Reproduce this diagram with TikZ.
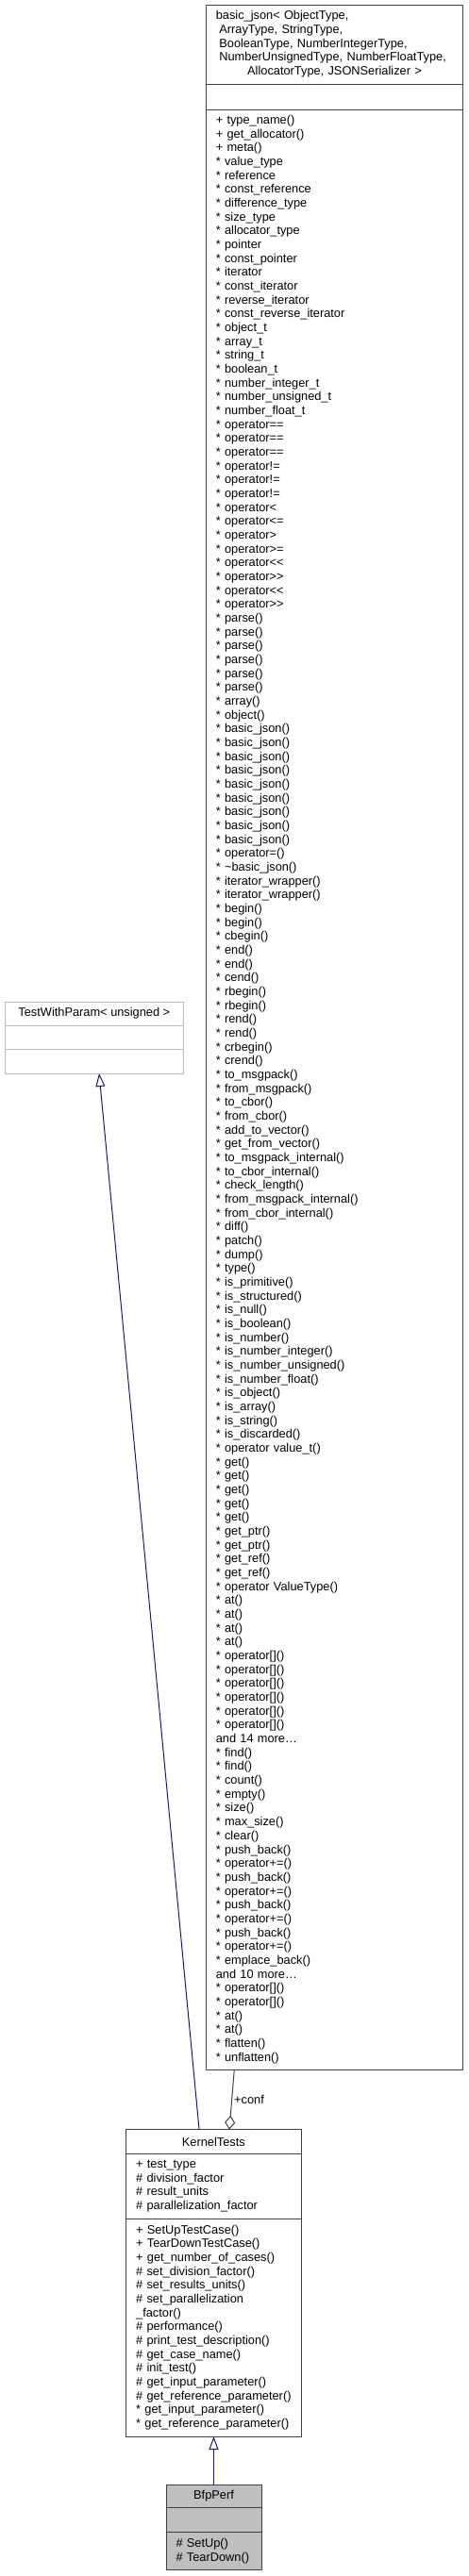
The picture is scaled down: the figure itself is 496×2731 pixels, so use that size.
\documentclass[tikz,border=0pt]{standalone}
\usepackage{fontspec}
\setmainfont{Liberation Sans}
\usepackage{tikz}
\usetikzlibrary{arrows.meta,positioning}
\definecolor{inheritblue}{RGB}{25,25,112}
\colorlet{boxedge}{black!75}
\colorlet{extedge}{black!25}
\colorlet{focusfill}{black!25}
\colorlet{aggedge}{black!75}
\newcommand{\umlfont}{\fontsize{12.8}{14.667}\selectfont}
\tikzset{
    classpart/.style={
        rectangle, draw=boxedge, line width=1pt, fill=white,
        outer sep=0pt, inner xsep=10.5pt, inner ysep=2pt, font=\umlfont
    },
    headpart/.style={classpart, align=center},
    listpart/.style={classpart, align=left},
    extpart/.style={classpart, draw=extedge, align=center},
    focuspart/.style={classpart, fill=focusfill},
    inherit/.style={-{Triangle[open, length=14pt, width=10pt]},
        line width=1pt, draw=inheritblue},
    aggregate/.style={-{Diamond[open, length=15pt, width=11pt]},
        line width=1pt, draw=aggedge},
    edgelbl/.style={font=\umlfont, inner sep=1pt}
}

\begin{document}
\begin{tikzpicture}[x=1pt, y=-1pt, node distance=0pt]
    \useasboundingbox (0,0) rectangle (496,2731);
    % basic_json template (top right)
    \node[headpart, align=left, anchor=north west, minimum width=272.4pt,
        minimum height=84pt, text width=251.4pt] (bjhead) at (218.3,5)
        {basic\_json< ObjectType,\\
        \hspace*{.28em}ArrayType, StringType,\\
        \hspace*{.28em}BooleanType, NumberIntegerType,\\
        \hspace*{.28em}NumberUnsignedType, NumberFloatType,\\
        \makebox[251.4pt][c]{AllocatorType, JSONSerializer >}};
    \node[classpart, below=of bjhead, minimum width=272.4pt,
        minimum height=27pt] (bjattr) {};
    \node[listpart, below=of bjattr, minimum width=272.4pt,
        minimum height=2078pt, text width=251.4pt] (bjops)
        {+~type\_name()\\
        +~get\_allocator()\\
        +~meta()\\
        {*}~value\_type\\
        {*}~reference\\
        {*}~const\_reference\\
        {*}~difference\_type\\
        {*}~size\_type\\
        {*}~allocator\_type\\
        {*}~pointer\\
        {*}~const\_pointer\\
        {*}~iterator\\
        {*}~const\_iterator\\
        {*}~reverse\_iterator\\
        {*}~const\_reverse\_iterator\\
        {*}~object\_t\\
        {*}~array\_t\\
        {*}~string\_t\\
        {*}~boolean\_t\\
        {*}~number\_integer\_t\\
        {*}~number\_unsigned\_t\\
        {*}~number\_float\_t\\
        {*}~operator==\\
        {*}~operator==\\
        {*}~operator==\\
        {*}~operator!=\\
        {*}~operator!=\\
        {*}~operator!=\\
        {*}~operator<\\
        {*}~operator<=\\
        {*}~operator>\\
        {*}~operator>=\\
        {*}~operator<{}<\\
        {*}~operator>{}>\\
        {*}~operator<{}<\\
        {*}~operator>{}>\\
        {*}~parse()\\
        {*}~parse()\\
        {*}~parse()\\
        {*}~parse()\\
        {*}~parse()\\
        {*}~parse()\\
        {*}~array()\\
        {*}~object()\\
        {*}~basic\_json()\\
        {*}~basic\_json()\\
        {*}~basic\_json()\\
        {*}~basic\_json()\\
        {*}~basic\_json()\\
        {*}~basic\_json()\\
        {*}~basic\_json()\\
        {*}~basic\_json()\\
        {*}~basic\_json()\\
        {*}~operator=()\\
        {*}~\textasciitilde basic\_json()\\
        {*}~iterator\_wrapper()\\
        {*}~iterator\_wrapper()\\
        {*}~begin()\\
        {*}~begin()\\
        {*}~cbegin()\\
        {*}~end()\\
        {*}~end()\\
        {*}~cend()\\
        {*}~rbegin()\\
        {*}~rbegin()\\
        {*}~rend()\\
        {*}~rend()\\
        {*}~crbegin()\\
        {*}~crend()\\
        {*}~to\_msgpack()\\
        {*}~from\_msgpack()\\
        {*}~to\_cbor()\\
        {*}~from\_cbor()\\
        {*}~add\_to\_vector()\\
        {*}~get\_from\_vector()\\
        {*}~to\_msgpack\_internal()\\
        {*}~to\_cbor\_internal()\\
        {*}~check\_length()\\
        {*}~from\_msgpack\_internal()\\
        {*}~from\_cbor\_internal()\\
        {*}~diff()\\
        {*}~patch()\\
        {*}~dump()\\
        {*}~type()\\
        {*}~is\_primitive()\\
        {*}~is\_structured()\\
        {*}~is\_null()\\
        {*}~is\_boolean()\\
        {*}~is\_number()\\
        {*}~is\_number\_integer()\\
        {*}~is\_number\_unsigned()\\
        {*}~is\_number\_float()\\
        {*}~is\_object()\\
        {*}~is\_array()\\
        {*}~is\_string()\\
        {*}~is\_discarded()\\
        {*}~operator value\_t()\\
        {*}~get()\\
        {*}~get()\\
        {*}~get()\\
        {*}~get()\\
        {*}~get()\\
        {*}~get\_ptr()\\
        {*}~get\_ptr()\\
        {*}~get\_ref()\\
        {*}~get\_ref()\\
        {*}~operator ValueType()\\
        {*}~at()\\
        {*}~at()\\
        {*}~at()\\
        {*}~at()\\
        {*}~operator[]()\\
        {*}~operator[]()\\
        {*}~operator[]()\\
        {*}~operator[]()\\
        {*}~operator[]()\\
        {*}~operator[]()\\
        and 14 more\ldots\\
        {*}~find()\\
        {*}~find()\\
        {*}~count()\\
        {*}~empty()\\
        {*}~size()\\
        {*}~max\_size()\\
        {*}~clear()\\
        {*}~push\_back()\\
        {*}~operator+=()\\
        {*}~push\_back()\\
        {*}~operator+=()\\
        {*}~push\_back()\\
        {*}~operator+=()\\
        {*}~push\_back()\\
        {*}~operator+=()\\
        {*}~emplace\_back()\\
        and 10 more\ldots\\
        {*}~operator[]()\\
        {*}~operator[]()\\
        {*}~at()\\
        {*}~at()\\
        {*}~flatten()\\
        {*}~unflatten()};
    % gtest base class (left)
    \node[extpart, anchor=north west, minimum width=189.7pt,
        minimum height=25pt] (twphead) at (5,1062) {TestWithParam< unsigned >};
    \node[extpart, below=of twphead, minimum width=189.7pt,
        minimum height=25pt] (twpattr) {};
    \node[extpart, below=of twpattr, minimum width=189.7pt,
        minimum height=26pt] (twpops) {};
    % KernelTests
    \node[headpart, anchor=north west, minimum width=185.3pt,
        minimum height=25.6pt] (kthead) at (133.7,2257.7) {KernelTests};
    \node[listpart, below=of kthead, minimum width=185.3pt,
        minimum height=68.7pt, text width=164.3pt] (ktattr)
        {+~test\_type\\
        \#~division\_factor\\
        \#~result\_units\\
        \#~parallelization\_factor};
    \node[listpart, below=of ktattr, minimum width=185.3pt,
        minimum height=231pt, text width=164.3pt] (ktops)
        {+~SetUpTestCase()\\
        +~TearDownTestCase()\\
        +~get\_number\_of\_cases()\\
        \#~set\_division\_factor()\\
        \#~set\_results\_units()\\
        \#~set\_parallelization\\
        \_factor()\\
        \#~performance()\\
        \#~print\_test\_description()\\
        \#~get\_case\_name()\\
        \#~init\_test()\\
        \#~get\_input\_parameter()\\
        \#~get\_reference\_parameter()\\
        {*}~get\_input\_parameter()\\
        {*}~get\_reference\_parameter()};
    % BfpPerf (focus class)
    \node[headpart, focuspart, anchor=north west, minimum width=101pt,
        minimum height=24.7pt] (bfphead) at (176,2634) {BfpPerf};
    \node[focuspart, below=of bfphead, minimum width=101pt,
        minimum height=25.6pt] (bfpattr) {};
    \node[listpart, focuspart, below=of bfpattr, minimum width=101pt,
        minimum height=40.4pt, text width=80pt] (bfpops)
        {\#~SetUp()\\
        \#~TearDown()};
    % relations
    \draw[inherit] ([xshift=-15.3pt]kthead.north) -- ([xshift=5.2pt]twpops.south);
    \draw[aggregate] ([xshift=-106.2pt]bjops.south) -- ([xshift=16.7pt]kthead.north)
        node[edgelbl, midway, right=1pt] (conflbl) {+conf};
    \draw[inherit] (bfphead.north) -- (bfphead.north |- ktops.south);
\end{tikzpicture}
\end{document}
